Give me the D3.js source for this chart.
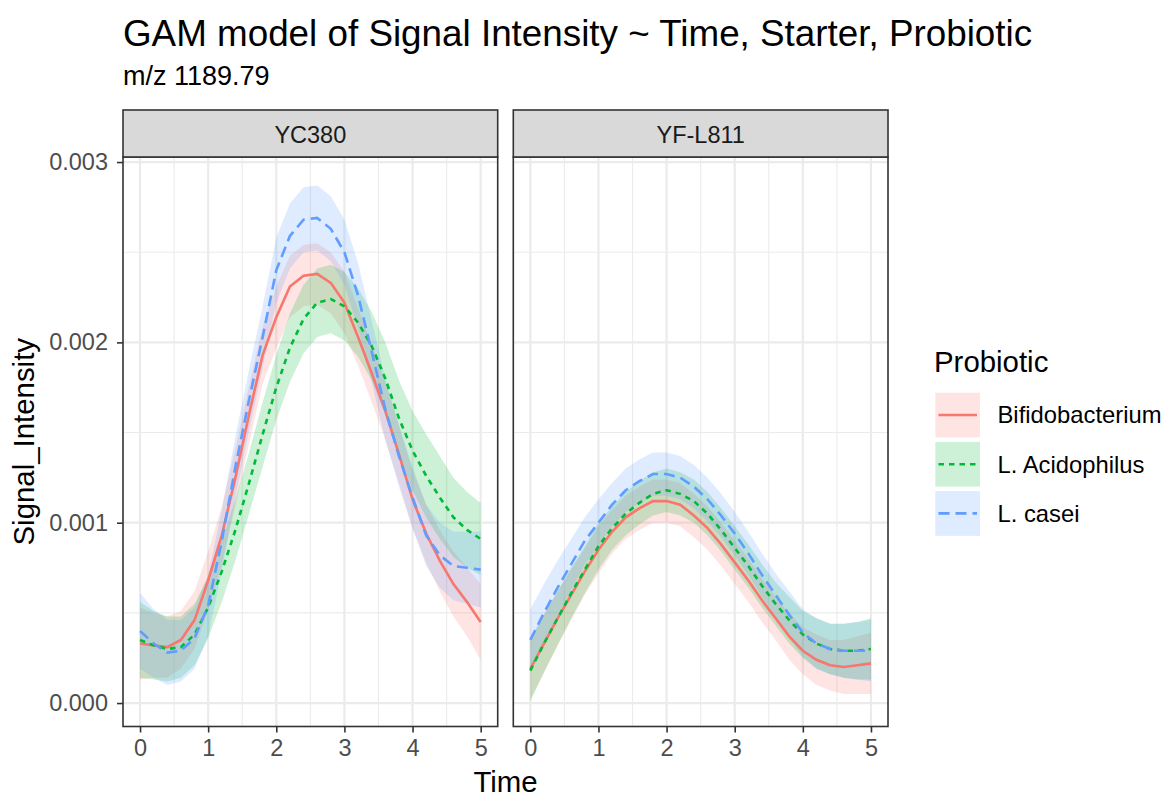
<!DOCTYPE html>
<html>
<head>
<meta charset="utf-8">
<script src="https://cdn.jsdelivr.net/npm/d3@7"></script>
<style>
  body { margin: 0; background: #fff; }
  svg { font-family: "Liberation Sans", Arial, sans-serif; display: block; }
</style>
</head>
<body>
<div id="chart"></div>
<script>
// ggplot-like facet chart: GAM fits with confidence ribbons

const RED = "#F8766D"
const GREEN = "#00BA38"
const BLUE = "#619CFF"
const GRID = "#EBEBEB"
const DARK = "#333333"

const starters = ["YC380", "YF-L811"];
const probiotics = ["Bifidobacterium", "L. Acidophilus", "L. casei"];
const seriesColors = [RED, GREEN, BLUE];
const seriesDash = [null, "5.5,5", "11,6"];

const timeGrid = [0, 0.2, 0.4, 0.6, 0.8, 1.0, 1.2, 1.4, 1.6, 1.8, 2.0, 2.2, 2.4,
  2.6, 2.8, 3.0, 3.2, 3.4, 3.6, 3.8, 4.0, 4.2, 4.4, 4.6, 4.8, 5.0];

const xTicks = [0, 1, 2, 3, 4, 5];
const xMinor = [0.5, 1.5, 2.5, 3.5, 4.5];
const yTicks = [0, 0.001, 0.002, 0.003];
const yMinor = [0.0005, 0.0015, 0.0025];

// YC380 fitted values
const yc380Bifido = [0.00033, 0.00032, 0.00031, 0.00035, 0.00046, 0.00068, 0.00093, 0.00125, 0.00160, 0.00193,
  0.00214, 0.00231, 0.00237, 0.00238, 0.00233, 0.00222, 0.00203, 0.00183, 0.00162, 0.00138,
  0.00113, 0.00094, 0.00079, 0.00066, 0.00056, 0.00045];
const yc380Acido = [0.00035, 0.00032, 0.00030, 0.00031, 0.00038, 0.00053, 0.00073, 0.00096, 0.00122, 0.00149,
  0.00175, 0.00197, 0.00213, 0.00222, 0.00224, 0.00220, 0.00211, 0.00198, 0.00180, 0.00158,
  0.00140, 0.00126, 0.00114, 0.00103, 0.00096, 0.00091];
const yc380Casei = [0.00040, 0.00033, 0.00028, 0.00029, 0.00036, 0.00054, 0.00090, 0.00131, 0.00168, 0.00203,
  0.00240, 0.00259, 0.00268, 0.00269, 0.00263, 0.00250, 0.00226, 0.00195, 0.00163, 0.00137,
  0.00114, 0.00093, 0.00082, 0.00076, 0.00075, 0.00074];

// YC380 ribbon half widths
const yc380BifidoCi = [0.00020, 0.00018, 0.00017, 0.00016, 0.00016, 0.00016, 0.00016, 0.00016, 0.00016, 0.00016,
  0.00017, 0.00017, 0.00017, 0.00017, 0.00017, 0.00017, 0.00016, 0.00016, 0.00016, 0.00016,
  0.00016, 0.00016, 0.00017, 0.00018, 0.00019, 0.00021];
const yc380AcidoCi = [0.00021, 0.00019, 0.00018, 0.00017, 0.00017, 0.00017, 0.00017, 0.00017, 0.00017, 0.00018,
  0.00018, 0.00019, 0.00019, 0.00019, 0.00019, 0.00019, 0.00019, 0.00019, 0.00020, 0.00021,
  0.00022, 0.00023, 0.00023, 0.00022, 0.00021, 0.00020];
const yc380CaseiCi = [0.00021, 0.00019, 0.00018, 0.00017, 0.00017, 0.00017, 0.00017, 0.00017, 0.00017, 0.00017,
  0.00018, 0.00018, 0.00018, 0.00018, 0.00018, 0.00018, 0.00018, 0.00017, 0.00017, 0.00017,
  0.00017, 0.00017, 0.00018, 0.00019, 0.00020, 0.00021];

// YF-L811 fitted values
const yfBifido = [0.00019, 0.00033, 0.00047, 0.00060, 0.00073, 0.00085, 0.00095, 0.00103, 0.00108, 0.00112,
  0.00112, 0.00110, 0.00104, 0.00097, 0.00088, 0.00078, 0.00068, 0.00057, 0.00047, 0.00037,
  0.00029, 0.00024, 0.00021, 0.00020, 0.00021, 0.00022];
const yfAcido = [0.00018, 0.00033, 0.00047, 0.00061, 0.00074, 0.00087, 0.00097, 0.00105, 0.00111, 0.00116,
  0.00118, 0.00116, 0.00112, 0.00105, 0.00096, 0.00086, 0.00076, 0.00065, 0.00055, 0.00046,
  0.00038, 0.00033, 0.00030, 0.00029, 0.00029, 0.00030];
const yfCasei = [0.00035, 0.00050, 0.00064, 0.00077, 0.00090, 0.00100, 0.00110, 0.00118, 0.00123, 0.00127,
  0.00127, 0.00125, 0.00120, 0.00113, 0.00104, 0.00094, 0.00083, 0.00071, 0.00060, 0.00049,
  0.00039, 0.00033, 0.00030, 0.00029, 0.00029, 0.00029];

// YF-L811 ribbon half widths
const yfBifidoCi = [0.00017, 0.00016, 0.00015, 0.00014, 0.00013, 0.00013, 0.00012, 0.00012, 0.00012, 0.00012,
  0.00012, 0.00012, 0.00012, 0.00012, 0.00012, 0.00012, 0.00012, 0.00012, 0.00012, 0.00013,
  0.00013, 0.00014, 0.00014, 0.00015, 0.00016, 0.00017];
const yfAcidoCi = [0.00017, 0.00016, 0.00015, 0.00014, 0.00013, 0.00013, 0.00012, 0.00012, 0.00012, 0.00012,
  0.00012, 0.00012, 0.00012, 0.00012, 0.00012, 0.00012, 0.00012, 0.00012, 0.00012, 0.00013,
  0.00013, 0.00014, 0.00014, 0.00015, 0.00016, 0.00017];
const yfCaseiCi = [0.00017, 0.00016, 0.00015, 0.00014, 0.00013, 0.00013, 0.00012, 0.00012, 0.00012, 0.00012,
  0.00012, 0.00012, 0.00012, 0.00012, 0.00012, 0.00012, 0.00012, 0.00012, 0.00012, 0.00013,
  0.00013, 0.00014, 0.00014, 0.00015, 0.00016, 0.00017];

const panelFits = [[yc380Bifido, yc380Acido, yc380Casei], [yfBifido, yfAcido, yfCasei]];
const panelCis = [[yc380BifidoCi, yc380AcidoCi, yc380CaseiCi], [yfBifidoCi, yfAcidoCi, yfCaseiCi]];

const W = 1173, H = 798;
const panelTop = 157, panelBottom = 726.5, stripTop = 110;
const panelLefts = [123, 513.3];
const panelWidth = 374.7;

const svg = d3.select("#chart").append("svg")
  .attr("width", W)
  .attr("height", H);

const y = d3.scaleLinear()
  .domain([-0.00013, 0.003028])
  .range([panelBottom, panelTop]);

// titles
svg.append("text")
  .attr("x", 123).attr("y", 46)
  .style("font-size", "36.8px").attr("fill", "#000")
  .text("GAM model of Signal Intensity ~ Time, Starter, Probiotic");
svg.append("text")
  .attr("x", 123).attr("y", 85)
  .style("font-size", "27px").attr("fill", "#000")
  .text("m/z 1189.79");

starters.forEach(function(starter, p) {
  var left = panelLefts[p];
  var x = d3.scaleLinear().domain([-0.25, 5.25]).range([left, left + panelWidth]);
  var g = svg.append("g");

  // minor grid
  g.selectAll(".xminor").data(xMinor).enter().append("line")
    .attr("x1", d => x(d)).attr("x2", d => x(d))
    .attr("y1", panelTop).attr("y2", panelBottom)
    .attr("stroke", GRID).attr("stroke-width", 1.1);
  g.selectAll(".yminor").data(yMinor).enter().append("line")
    .attr("x1", left).attr("x2", left + panelWidth)
    .attr("y1", d => y(d)).attr("y2", d => y(d))
    .attr("stroke", GRID).attr("stroke-width", 1.1);
  // major grid
  g.selectAll(".xmajor").data(xTicks).enter().append("line")
    .attr("x1", d => x(d)).attr("x2", d => x(d))
    .attr("y1", panelTop).attr("y2", panelBottom)
    .attr("stroke", GRID).attr("stroke-width", 2.2);
  g.selectAll(".ymajor").data(yTicks).enter().append("line")
    .attr("x1", left).attr("x2", left + panelWidth)
    .attr("y1", d => y(d)).attr("y2", d => y(d))
    .attr("stroke", GRID).attr("stroke-width", 2.2);

  var fits = panelFits[p], cis = panelCis[p];

  // ribbons first
  probiotics.forEach(function(name, s) {
    var area = d3.area()
      .x((d, i) => x(timeGrid[i]))
      .y0((d, i) => y(d - cis[s][i]))
      .y1((d, i) => y(d + cis[s][i]));
    g.append("path")
      .datum(fits[s])
      .attr("d", area)
      .attr("fill", seriesColors[s])
      .attr("fill-opacity", 0.2);
  });
  // fitted lines
  probiotics.forEach(function(name, s) {
    var line = d3.line()
      .x((d, i) => x(timeGrid[i]))
      .y(d => y(d));
    g.append("path")
      .datum(fits[s])
      .attr("d", line)
      .attr("fill", "none")
      .attr("stroke", seriesColors[s])
      .attr("stroke-width", 2.6)
      .attr("stroke-dasharray", seriesDash[s]);
  });

  // panel border
  g.append("rect")
    .attr("x", left).attr("y", panelTop)
    .attr("width", panelWidth).attr("height", panelBottom - panelTop)
    .attr("fill", "none").attr("stroke", DARK).attr("stroke-width", 1.6);

  // strip
  g.append("rect")
    .attr("x", left).attr("y", stripTop)
    .attr("width", panelWidth).attr("height", panelTop - stripTop)
    .attr("fill", "#D9D9D9").attr("stroke", DARK).attr("stroke-width", 1.6);
  g.append("text")
    .attr("x", left + panelWidth / 2).attr("y", 143)
    .attr("text-anchor", "middle")
    .style("font-size", "23.5px").attr("fill", "#1A1A1A")
    .text(starter);

  // x axis
  var xAxis = g.append("g")
    .attr("transform", "translate(0," + panelBottom + ")")
    .call(d3.axisBottom(x).tickValues(xTicks).tickSize(6).tickPadding(7).tickFormat(d3.format("d")));
  xAxis.select(".domain").remove();
  xAxis.selectAll(".tick line").attr("stroke", DARK).attr("stroke-width", 1.6);
  xAxis.selectAll(".tick text").attr("fill", "#4D4D4D")
    .style("font-size", "23.5px").style("font-family", "\"Liberation Sans\", Arial, sans-serif");
});

// y axis, left panel only
var yAxis = svg.append("g")
  .attr("transform", "translate(" + panelLefts[0] + ",0)")
  .call(d3.axisLeft(y).tickValues(yTicks).tickSize(6).tickPadding(9).tickFormat(d3.format(".3f")));
yAxis.select(".domain").remove();
yAxis.selectAll(".tick line").attr("stroke", DARK).attr("stroke-width", 1.6);
yAxis.selectAll(".tick text").attr("fill", "#4D4D4D")
  .style("font-size", "23.5px").style("font-family", "\"Liberation Sans\", Arial, sans-serif");

// axis titles
svg.append("text")
  .attr("x", (panelLefts[0] + panelLefts[1] + panelWidth) / 2).attr("y", 792)
  .attr("text-anchor", "middle")
  .style("font-size", "29.4px").attr("fill", "#000")
  .text("Time");
svg.append("g")
  .attr("transform", "translate(34," + ((panelTop + panelBottom) / 2) + ")")
  .append("text")
  .attr("transform", "rotate(-90)")
  .attr("text-anchor", "middle")
  .style("font-size", "29.4px").attr("fill", "#000")
  .text("Signal_Intensity");

// legend
var legend = svg.append("g");
legend.append("text")
  .attr("x", 934).attr("y", 372)
  .style("font-size", "29.4px").attr("fill", "#000")
  .text("Probiotic");
probiotics.forEach(function(name, s) {
  var top = 392.7 + s * 49.2;
  legend.append("rect")
    .attr("x", 935.3).attr("y", top)
    .attr("width", 44.7).attr("height", 44.7)
    .attr("fill", seriesColors[s]).attr("fill-opacity", 0.2);
  legend.append("line")
    .attr("x1", 938.5).attr("x2", 977)
    .attr("y1", top + 22.3).attr("y2", top + 22.3)
    .attr("stroke", seriesColors[s]).attr("stroke-width", 2.6)
    .attr("stroke-dasharray", seriesDash[s]);
  legend.append("text")
    .attr("x", 997.5).attr("y", top + 22.3 + 8.4)
    .style("font-size", "23.8px").attr("fill", "#000")
    .text(name);
});
</script>
</body>
</html>
